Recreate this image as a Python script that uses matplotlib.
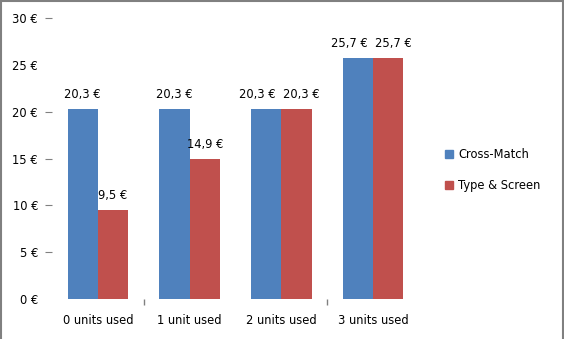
import matplotlib
matplotlib.use("Agg")
import matplotlib.pyplot as plt
from matplotlib.patches import Patch
import numpy as np

categories = ["0 units used", "1 unit used", "2 units used", "3 units used"]
series_names = ["Cross-Match", "Type & Screen"]
cross_match = [20.3, 20.3, 20.3, 25.7]
type_screen = [9.5, 14.9, 20.3, 25.7]
y_ticks = [0, 5, 10, 15, 20, 25, 30]
colors = ["#4F81BD", "#C0504D"]

W, H, DPI = 564, 339, 100
fig = plt.figure(figsize=(W / DPI, H / DPI), dpi=DPI)
plt.rcParams['font.family'] = ['DejaVu Sans']
fs = 8.3

ax = fig.add_axes([52 / W, 1 - 299 / H, (419 - 52) / W, (299 - 18) / H])
x = np.arange(len(categories))
bw = 0.33
series = [cross_match, type_screen]
for i, (vals, c) in enumerate(zip(series, colors)):
    pos = x + (i - 0.5) * bw
    ax.bar(pos, vals, width=bw, color=c, label=series_names[i])

# data labels (pushed apart when the two labels of a group would collide)
for g in range(len(categories)):
    a, b = cross_match[g], type_screen[g]
    close = abs(a - b) < 2.0
    for i, v in enumerate((a, b)):
        p = x[g] + (i - 0.5) * bw
        dx = 0
        if close:
            dx = -6.5 if i == 0 else 3.5
        ax.annotate(f"{v:.1f} €".replace(".", ","), (p, v), xytext=(dx, 6),
                    textcoords="offset points", ha="center", va="bottom",
                    fontsize=fs, color="black")

ax.set_xlim(-0.5, 3.5)
ax.set_ylim(0, 30)
for s in ax.spines.values():
    s.set_visible(False)

ax.set_yticks(y_ticks)
ax.set_yticklabels([f"{t} €" for t in y_ticks], fontsize=fs)
ax.tick_params(axis="y", length=5, width=0.8, color="#808080", pad=5)
for t, tick in zip(y_ticks, ax.yaxis.get_major_ticks()):
    if t in (0, 25):
        tick.tick1line.set_visible(False)

ax.set_xticks(x)
ax.set_xticklabels(categories, fontsize=fs)
ax.tick_params(axis="x", length=0, pad=11)
ax.set_xticks([0.5, 2.5], minor=True)
ax.tick_params(axis="x", which="minor", length=4.5, width=1, color="#808080")

handles = [Patch(facecolor=c, edgecolor=c) for c in colors]
fig.legend(handles, series_names, loc="center left",
           bbox_to_anchor=(435 / W, 1 - 170 / H), frameon=False,
           fontsize=fs, handlelength=0.7, handleheight=0.7,
           handletextpad=0.4, labelspacing=1.5)

# border (left, top, right)
for xs, ys in [([0.8 / W, 0.8 / W], [0, 1]), ([0, 1], [1 - 0.8 / H, 1 - 0.8 / H]),
               ([1 - 1.2 / W, 1 - 1.2 / W], [0, 1])]:
    fig.add_artist(plt.Line2D(xs, ys, color="#808080", lw=1.5,
                              transform=fig.transFigure))

fig.savefig("out.png", dpi=DPI)
